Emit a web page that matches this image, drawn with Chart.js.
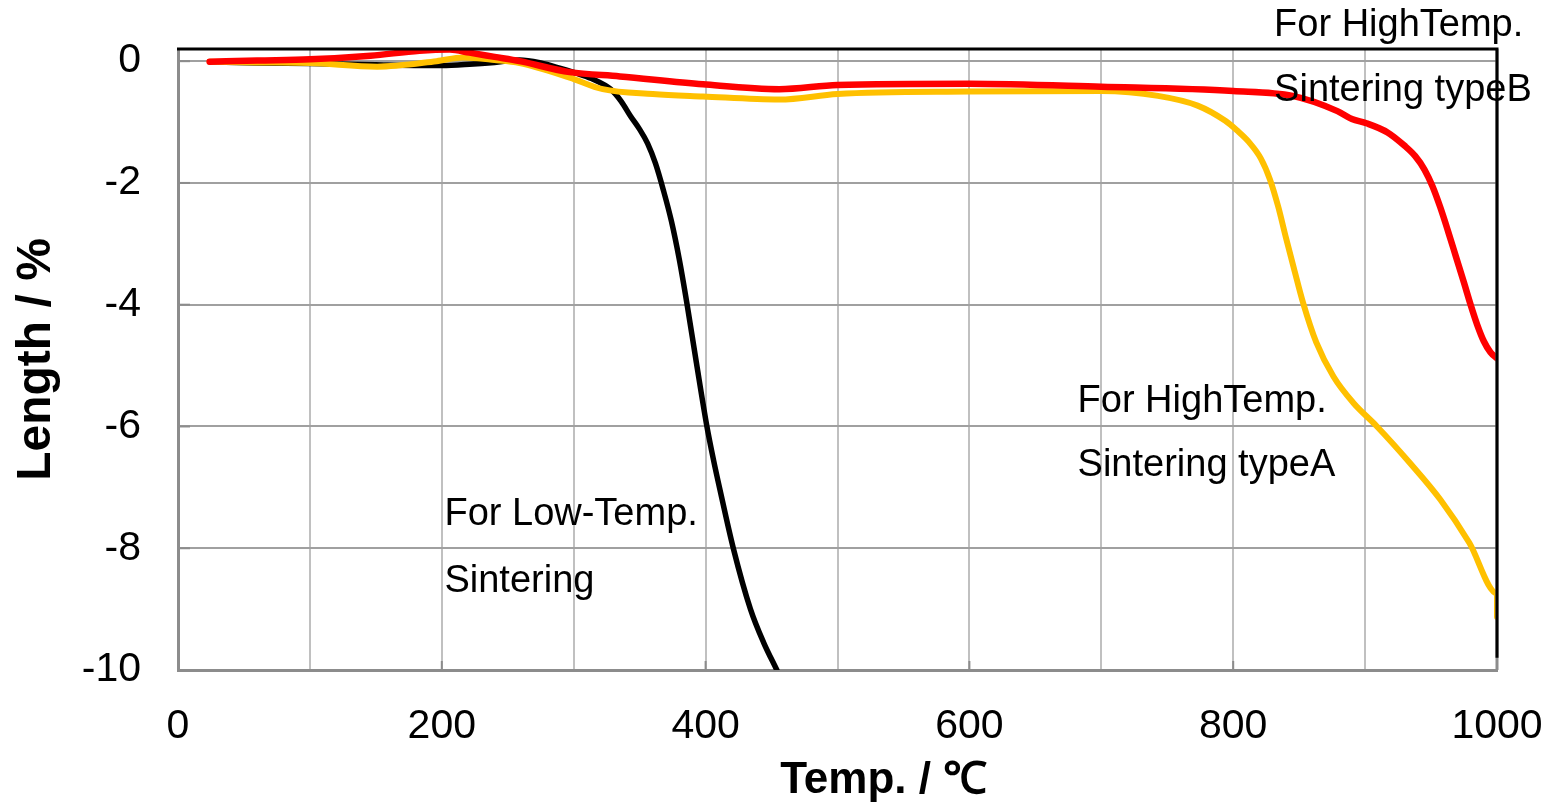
<!DOCTYPE html>
<html>
<head>
<meta charset="utf-8">
<script src="https://cdn.jsdelivr.net/npm/chart.js@4/dist/chart.umd.min.js"></script>
<style>
  html, body { margin: 0; padding: 0; background: #fff; }
  #wrap { width: 1550px; height: 803px; }
</style>
</head>
<body>
<div id="wrap"><canvas id="dilChart" width="1550" height="803"></canvas></div>
<script>
// Temperature (deg C) and length change (%)
const tempTypeB = [24, 60, 100, 146, 183, 206, 221, 240, 259, 297, 335, 398, 456, 500, 600, 700, 800, 845, 879, 890, 901, 917, 930, 938, 945, 951, 957, 963, 969, 975, 980, 985, 990, 995, 1000];
const lenTypeB  = [-0.01, 0.01, 0.03, 0.09, 0.17, 0.19, 0.14, 0.07, 0.0, -0.18, -0.25, -0.38, -0.46, -0.39, -0.37, -0.42, -0.49, -0.57, -0.82, -0.95, -1.02, -1.17, -1.39, -1.56, -1.78, -2.05, -2.4, -2.8, -3.22, -3.64, -4.0, -4.33, -4.6, -4.78, -4.88];

const tempTypeA = [24, 60, 100, 151, 196, 216, 240, 259, 297, 322, 360, 398, 456, 500, 600, 700, 743, 773, 794, 803, 812, 821, 828, 834, 840, 846, 853, 863, 876, 891, 909, 934, 957, 979, 1000, 1000];
const lenTypeA  = [-0.01, -0.02, -0.03, -0.09, 0.0, 0.06, 0.02, -0.03, -0.27, -0.46, -0.54, -0.58, -0.63, -0.54, -0.5, -0.49, -0.57, -0.73, -0.98, -1.14, -1.33, -1.6, -1.95, -2.38, -2.9, -3.4, -3.97, -4.62, -5.18, -5.61, -6.0, -6.6, -7.2, -7.91, -8.74, -9.13];

const tempLow = [24, 60, 100, 150, 180, 200, 221, 240, 259, 275, 290, 305, 315, 328, 336, 343, 350, 356, 362, 368, 374, 380, 386, 393, 401, 406, 411, 421, 434, 444, 454];
const lenLow  = [-0.01, -0.03, -0.04, -0.06, -0.07, -0.07, -0.05, -0.02, 0.02, -0.03, -0.12, -0.22, -0.3, -0.46, -0.66, -0.9, -1.12, -1.35, -1.68, -2.12, -2.62, -3.25, -4.0, -4.95, -6.0, -6.55, -7.05, -8.0, -9.0, -9.55, -10.0];

const yTicks = [-10, -8, -6, -4, -2, 0];

// curve labels: [text line 1, text line 2, temp, length at first baseline, length at second baseline]
const notes = [
  ['For HighTemp.', 'Sintering typeB', 831, 0.41, -0.66],
  ['For HighTemp.', 'Sintering typeA', 682, -5.76, -6.81],
  ['For Low-Temp.', 'Sintering', 202, -7.62, -8.72]
];

function toPoints(xs, ys) {
  return xs.map((x, i) => ({ x: x, y: ys[i] }));
}

const FONT = "'Liberation Sans', Arial, sans-serif";

function noScalePadding(scale) {
  scale.paddingTop = 0;
  scale.paddingBottom = 0;
  scale.paddingLeft = 0;
  scale.paddingRight = 0;
}

// frame, inner tick stubs, x title and the curve labels
const framePlugin = {
  id: 'framePlugin',
  afterDraw(chart) {
    const ctx = chart.ctx;
    const xs = chart.scales.x;
    const ys = chart.scales.y;
    const a = chart.chartArea;
    ctx.save();
    // inner tick marks
    ctx.strokeStyle = '#8c8c8c';
    ctx.lineWidth = 2;
    yTicks.forEach(v => {
      const py = ys.getPixelForValue(v);
      ctx.beginPath();
      ctx.moveTo(a.left, py);
      ctx.lineTo(a.left + 12, py);
      ctx.stroke();
    });
    for (let t = 0; t <= 1000; t += 200) {
      const px = xs.getPixelForValue(t);
      ctx.beginPath();
      ctx.moveTo(px, a.bottom);
      ctx.lineTo(px, a.bottom - 9);
      ctx.stroke();
    }
    // right gray part and black top / right frame
    ctx.lineWidth = 3;
    ctx.beginPath();
    ctx.moveTo(a.right, a.top);
    ctx.lineTo(a.right, a.bottom);
    ctx.stroke();
    ctx.strokeStyle = '#000';
    ctx.beginPath();
    ctx.moveTo(a.left - 1, a.top);
    ctx.lineTo(a.right, a.top);
    ctx.lineTo(a.right, ys.getPixelForValue(-9.8));
    ctx.stroke();

    ctx.fillStyle = '#000';
    // x axis title (sits right of centre in the original)
    ctx.font = 'bold 44px ' + FONT;
    ctx.textAlign = 'center';
    ctx.textBaseline = 'middle';
    ctx.fillText('Temp. / ℃', xs.getPixelForValue(535), 781);

    // curve labels
    ctx.font = '38px ' + FONT;
    ctx.textAlign = 'left';
    ctx.textBaseline = 'alphabetic';
    notes.forEach(n => {
      const px = xs.getPixelForValue(n[2]);
      ctx.fillText(n[0], px, ys.getPixelForValue(n[3]));
      ctx.fillText(n[1], px, ys.getPixelForValue(n[4]));
    });
    ctx.restore();
  }
};

document.addEventListener('DOMContentLoaded', () => {
  const ctx = document.getElementById('dilChart').getContext('2d');

  new Chart(ctx, {
    type: 'line',
    data: {
      datasets: [
        {
          label: 'For HighTemp. Sintering typeB',
          data: toPoints(tempTypeB, lenTypeB),
          borderColor: '#ff0000',
          borderWidth: 6.5,
          order: 1
        },
        {
          label: 'For HighTemp. Sintering typeA',
          data: toPoints(tempTypeA, lenTypeA),
          borderColor: '#ffc000',
          borderWidth: 6,
          order: 2
        },
        {
          label: 'For Low-Temp. Sintering',
          data: toPoints(tempLow, lenLow),
          borderColor: '#000000',
          borderWidth: 5.5,
          order: 3
        }
      ]
    },
    options: {
      responsive: false,
      animation: false,
      elements: {
        point: { radius: 0 },
        line: { cubicInterpolationMode: 'monotone', fill: false, borderCapStyle: 'round', borderJoinStyle: 'round' }
      },
      layout: { padding: { left: 0, right: 53, top: 49, bottom: 0 } },
      plugins: {
        legend: { display: false },
        tooltip: { enabled: false }
      },
      scales: {
        x: {
          type: 'linear',
          min: 0,
          max: 1000,
          afterFit: scale => { scale.height = 133; noScalePadding(scale); },
          grid: { color: '#c0c0c0', lineWidth: 2, drawTicks: false },
          border: { color: '#8c8c8c', width: 3 },
          ticks: {
            stepSize: 100,
            autoSkip: false,
            maxRotation: 0,
            padding: 32,
            color: '#000',
            font: { family: FONT, size: 41 },
            callback: v => (v % 200 === 0 ? String(v) : '')
          }
        },
        y: {
          type: 'linear',
          min: -10,
          max: 0.2,
          afterFit: scale => { scale.width = 178; noScalePadding(scale); },
          afterBuildTicks: scale => { scale.ticks = yTicks.map(v => ({ value: v })); },
          grid: { color: '#a0a0a0', lineWidth: 2, drawTicks: false },
          border: { color: '#8c8c8c', width: 3 },
          ticks: {
            padding: 37,
            color: '#000',
            font: { family: FONT, size: 41 },
            callback: v => String(v)
          },
          title: {
            display: true,
            text: 'Length / %',
            color: '#000',
            font: { family: FONT, size: 48, weight: 'bold', lineHeight: 1 },
            padding: { top: 13, bottom: 0 }
          }
        }
      }
    },
    plugins: [framePlugin]
  });
});
</script>
</body>
</html>
